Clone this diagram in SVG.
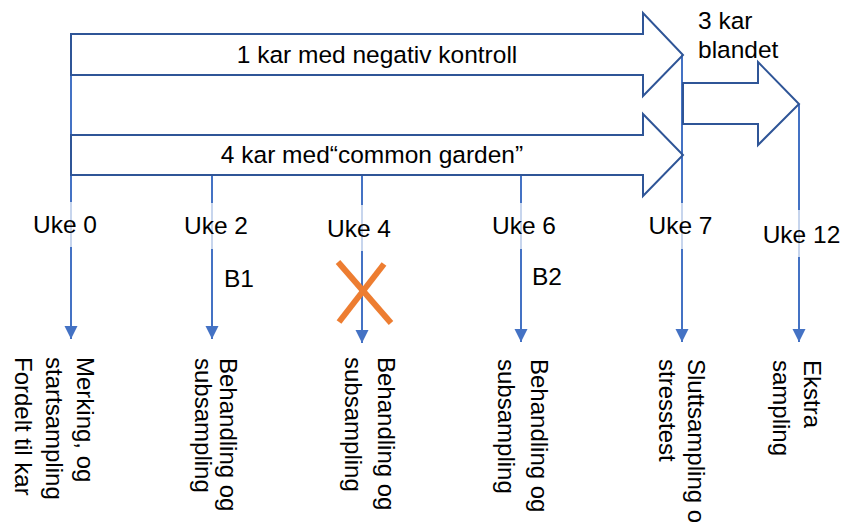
<svg xmlns="http://www.w3.org/2000/svg" width="843" height="523" viewBox="0 0 843 523">
<defs>
<marker id="ah" markerUnits="userSpaceOnUse" markerWidth="14" markerHeight="14" viewBox="0 0 14 14" refX="13" refY="7" orient="auto">
<path d="M0,0.5 L13,7 L0,13.5 Z" fill="#4472C4"/>
</marker>
<style>
.big{fill:none;stroke:#2F5597;stroke-width:2;stroke-linejoin:miter}
.con{fill:none;stroke:#4472C4;stroke-width:2;marker-end:url(#ah)}
.t{font-family:"Liberation Sans",Arial,sans-serif;font-size:24.5px;fill:#000}
.v{font-family:"Liberation Sans",Arial,sans-serif;font-size:24px;fill:#000}
.bg{fill:#fff;fill-opacity:0.7}
.x{stroke:#ED7D31;stroke-width:6;fill:none}
</style>
</defs>
<rect width="843" height="523" fill="#fff"/>
<g id="connectors">
<line class="con" x1="71" y1="55" x2="71" y2="339"/>
<line class="con" x1="212" y1="175" x2="212" y2="339"/>
<line class="con" x1="362" y1="175" x2="362" y2="343"/>
<line class="con" x1="521" y1="175" x2="521" y2="342"/>
<line class="con" x1="682" y1="55" x2="682" y2="342"/>
<line class="con" x1="799" y1="104" x2="799" y2="342"/>
</g>
<g id="arrow-kontroll">
<polygon class="big" points="71,34 643,34 643,13 683,55 643,96 643,75 71,75"/>
<text class="t" x="377" y="63" text-anchor="middle">1 kar med negativ kontroll</text>
</g>
<g id="arrow-garden">
<polygon class="big" points="71,135 643,135 643,114 683,155 643,196 643,175 71,175"/>
<text class="t" x="372" y="163" text-anchor="middle">4 kar med“common garden”</text>
</g>
<g id="arrow-blandet">
<polygon class="big" points="683,83 758,83 758,62 799,104 758,145 758,124 683,124"/>
<text class="t" x="698" y="29">3 kar</text>
<text class="t" x="698" y="58">blandet</text>
</g>
<g id="uke0">
<rect class="bg" x="30" y="202" width="72" height="45"/>
<text class="t" x="65" y="233" text-anchor="middle">Uke 0</text>
<g transform="translate(77,357) rotate(90)">
<text class="v" x="0" y="0">Merking, og</text>
<text class="v" x="0" y="31">startsampling</text>
<text class="v" x="0" y="62">Fordelt til kar</text>
</g>
</g>
<g id="uke2">
<rect class="bg" x="181" y="203" width="70" height="46"/>
<text class="t" x="216" y="234" text-anchor="middle">Uke 2</text>
<text class="t" x="224" y="287">B1</text>
<g transform="translate(220,358) rotate(90)">
<text class="v" x="0" y="0">Behandling og</text>
<text class="v" x="0" y="25">subsampling</text>
</g>
</g>
<g id="uke4">
<rect class="bg" x="324" y="205" width="70" height="46"/>
<text class="t" x="359" y="237" text-anchor="middle">Uke 4</text>
<line class="x" x1="338" y1="262" x2="391" y2="323"/>
<line class="x" x1="384" y1="264" x2="339" y2="322"/>
<g transform="translate(378,357) rotate(90)">
<text class="v" x="0" y="0">Behandling og</text>
<text class="v" x="0" y="33">subsampling</text>
</g>
</g>
<g id="uke6">
<rect class="bg" x="489" y="203" width="70" height="46"/>
<text class="t" x="524" y="234" text-anchor="middle">Uke 6</text>
<text class="t" x="532" y="285">B2</text>
<g transform="translate(531,359) rotate(90)">
<text class="v" x="0" y="0">Behandling og</text>
<text class="v" x="0" y="33">subsampling</text>
</g>
</g>
<g id="uke7">
<rect class="bg" x="646" y="203" width="70" height="46"/>
<text class="t" x="680.5" y="234" text-anchor="middle">Uke 7</text>
<g transform="translate(688,359) rotate(90)">
<text class="v" x="0" y="0">Sluttsampling og</text>
<text class="v" x="0" y="29">stresstest</text>
</g>
</g>
<g id="uke12">
<rect class="bg" x="760" y="210" width="83" height="47"/>
<text class="t" x="801.5" y="243" text-anchor="middle">Uke 12</text>
<g transform="translate(804,360) rotate(90)">
<text class="v" x="0" y="0">Ekstra</text>
<text class="v" x="0" y="31">sampling</text>
</g>
</g>
</svg>
